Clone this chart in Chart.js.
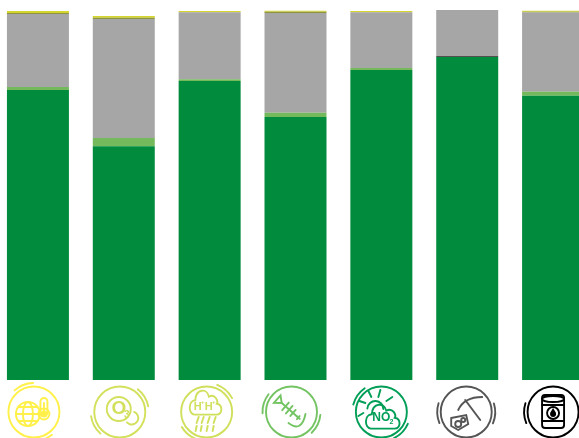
<!DOCTYPE html>
<html>
<head>
<meta charset="utf-8">
<script src="https://cdn.jsdelivr.net/npm/chart.js@4"></script>
<style>
html, body { margin: 0; padding: 0; background: #fff; width: 579px; height: 438px; overflow: hidden; }
#wrap { position: absolute; left: -5px; top: 0; width: 601px; height: 438px; }
</style>
</head>
<body>
<div id="wrap"><canvas id="impactChart" width="601" height="438"></canvas></div>
<script>
// Share of each impact category per life cycle stage
const categories = ['Global warming', 'Ozone depletion', 'Acidification', 'Eutrophication', 'Smog', 'Mineral resources', 'Fossil fuels'];
const stageGreen = [78.4, 63.2, 80.8, 71.1, 83.8, 87.3, 76.8];
const stageCharcoal = [0, 0, 0, 0, 0, 0.3, 0];
const stageLight = [0.8, 2.2, 0.5, 1.1, 0.5, 0, 1.1];
const stageGrey = [19.7, 32.2, 18.1, 27.0, 15.1, 12.4, 21.4];
const stageOlive = [0.3, 0.3, 0, 0.3, 0, 0, 0.2];
const stageYellow = [0.5, 0.5, 0.3, 0.3, 0.3, 0, 0.3];

// icon colour and centre shift from the bar middle
const iconColours = ['#fff04a', '#d3e05c', '#d0df5c', '#74c463', '#009e57', '#555555', '#000000'];
const iconShift = [-4, -4, -3, -4, 0, -1, 0];

function ring(c, x, y, r, a, b) {
    c.beginPath();
    c.arc(x, y, r, a, b);
    c.stroke();
}

// two outer arcs and the main circle used by every icon
function badge(c, x, y, a1, a2) {
    ring(c, x, y, 25.5, 0, Math.PI * 2);
    ring(c, x, y, 29, a1, a1 + 0.7);
    ring(c, x, y, 29, a2, a2 + 0.7);
}

function line(c, pts) {
    c.beginPath();
    c.moveTo(pts[0], pts[1]);
    for (var i = 2; i < pts.length; i += 2) c.lineTo(pts[i], pts[i + 1]);
    c.stroke();
}

function label(c, text, x, y, size) {
    c.font = 'bold ' + size + 'px "Liberation Sans", sans-serif';
    c.textAlign = 'center';
    c.textBaseline = 'middle';
    c.fillText(text, x, y);
}

function cloud(c, x, y, sx, sy) {
    c.beginPath();
    c.moveTo(x - 14 * sx, y + 8 * sy);
    c.bezierCurveTo(x - 22 * sx, y + 8 * sy, x - 22 * sx, y - 4 * sy, x - 13 * sx, y - 4 * sy);
    c.bezierCurveTo(x - 12 * sx, y - 14 * sy, x + 2 * sx, y - 14 * sy, x + 4 * sx, y - 7 * sy);
    c.bezierCurveTo(x + 12 * sx, y - 10 * sy, x + 16 * sx, y - 3 * sy, x + 14 * sx, y - 1 * sy);
    c.bezierCurveTo(x + 22 * sx, y, x + 21 * sx, y + 8 * sy, x + 14 * sx, y + 8 * sy);
    c.closePath();
    c.stroke();
}

const iconDrawers = [
    function (c, x, y) { // globe and thermometer
        badge(c, x, y, -2.3, 0.9);
        ring(c, x - 6, y + 2, 12, 0, Math.PI * 2);
        c.beginPath();
        c.ellipse(x - 6, y + 2, 5, 12, 0, 0, Math.PI * 2);
        c.stroke();
        line(c, [x - 18, y + 2, x + 6, y + 2]);
        line(c, [x - 15, y - 5, x + 3, y - 5]);
        line(c, [x - 15, y + 9, x + 3, y + 9]);
        c.fillStyle = '#fff';
        c.beginPath();
        c.roundRect(x + 6.5, y - 14, 7, 18, 3.5);
        c.fill();
        c.stroke();
        ring(c, x + 10, y + 2, 5.5, 0, Math.PI * 2);
        c.fillStyle = c.strokeStyle;
        c.beginPath();
        c.arc(x + 10, y + 2, 3.5, 0, Math.PI * 2);
        c.fill();
        line(c, [x + 10, y - 9, x + 10, y]);
    },
    function (c, x, y) { // ozone
        badge(c, x, y, -0.9, 2.3);
        ring(c, x - 1, y - 3, 12, 0, Math.PI * 2);
        ring(c, x + 12, y + 6, 6.5, -1.2, 2.4);
        c.fillStyle = c.strokeStyle;
        label(c, 'O', x - 1, y - 3, 19);
        label(c, '3', x + 7, y + 3, 10);
    },
    function (c, x, y) { // acid rain
        badge(c, x, y, -1.2, 1.9);
        cloud(c, x - 1, y - 7, 0.8, 1.2);
        c.fillStyle = c.strokeStyle;
        label(c, 'H', x - 9, y - 5, 11);
        label(c, 'H', x + 2, y - 5, 11);
        label(c, '+', x - 4, y - 10, 6);
        label(c, '+', x + 7, y - 10, 6);
        const drops = [-9, -4, 2, 8];
        for (var i = 0; i < drops.length; i++) {
            line(c, [x + drops[i] + 1, y + 5, x + drops[i] - 1, y + 11]);
            line(c, [x + drops[i] - 1, y + 14, x + drops[i] - 2, y + 19]);
        }
    },
    function (c, x, y) { // fish bones
        badge(c, x, y, 3.1, 0.1);
        c.save();
        c.translate(x - 3, y - 3);
        c.rotate(0.72);
        c.beginPath();
        c.moveTo(-15, -5);
        c.lineTo(-9, 0);
        c.lineTo(-15, 5);
        c.closePath();
        c.stroke();
        line(c, [-9, 0, 11, 0]);
        line(c, [-4, -5, -4, 5]);
        line(c, [1, -5, 1, 5]);
        line(c, [6, -4, 6, 4]);
        line(c, [13, -2, 13, 2]);
        line(c, [11, 0, 15, 0]);
        c.restore();
        c.beginPath();
        c.moveTo(x - 3, y + 11);
        c.quadraticCurveTo(x + 10, y + 21, x + 14, y + 2);
        c.stroke();
    },
    function (c, x, y) { // NO2 cloud and sun
        badge(c, x, y, 3.4, 0.42);
        ring(c, x - 6, y - 3, 8, 3.2, 0);
        line(c, [x - 16, y - 9, x - 22, y - 11]);
        line(c, [x - 10, y - 15, x - 13, y - 21]);
        line(c, [x - 3, y - 15, x - 1, y - 22]);
        line(c, [x + 5, y - 11, x + 11, y - 15]);
        line(c, [x - 18, y + 1, x - 23, y + 4]);
        cloud(c, x + 1.5, y + 7, 0.85, 1.2);
        c.fillStyle = c.strokeStyle;
        label(c, 'NO', x, y + 6, 12);
        label(c, '2', x + 10, y + 10, 7);
    },
    function (c, x, y) { // pickaxe and ore
        badge(c, x, y, 2.75, -0.3);
        line(c, [x - 1, y - 12, x + 14, y + 8]);
        c.beginPath();
        c.moveTo(x - 8, y - 2);
        c.quadraticCurveTo(x - 2, y - 15, x + 16, y - 15);
        c.stroke();
        c.beginPath();
        c.moveTo(x - 15, y + 6);
        c.lineTo(x, y + 3);
        c.lineTo(x + 2, y + 12);
        c.lineTo(x - 8, y + 18);
        c.lineTo(x - 15, y + 14);
        c.closePath();
        c.stroke();
        ring(c, x - 8, y + 12, 3, 0, Math.PI * 2);
        ring(c, x - 3, y + 8, 2, 0, Math.PI * 2);
    },
    function (c, x, y) { // oil barrel
        badge(c, x, y, 2.75, -0.3);
        c.beginPath();
        c.roundRect(x - 11, y - 17, 22, 33, 3);
        c.stroke();
        c.beginPath();
        c.ellipse(x, y - 13, 11, 3, 0, 0, Math.PI * 2);
        c.stroke();
        line(c, [x - 11, y - 7, x + 11, y - 7]);
        line(c, [x - 11, y + 9, x + 11, y + 9]);
        ring(c, x, y + 1, 6, 0, Math.PI * 2);
        c.fillStyle = c.strokeStyle;
        c.beginPath();
        c.arc(x, y + 2, 3, 0, Math.PI * 2);
        c.moveTo(x - 3, y + 1);
        c.lineTo(x, y - 4);
        c.lineTo(x + 3, y + 1);
        c.fill();
    }
];

// draws the icon row under the bars
const iconRow = {
    id: 'iconRow',
    afterDraw: function (chart) {
        const c = chart.ctx;
        const xScale = chart.scales.x;
        for (var i = 0; i < categories.length; i++) {
            c.save();
            c.strokeStyle = iconColours[i];
            c.lineWidth = 1.9;
            c.lineCap = 'round';
            iconDrawers[i](c, xScale.getPixelForValue(i) + iconShift[i], 412);
            c.restore();
        }
    }
};

const chartCtx = document.getElementById('impactChart').getContext('2d');
const impactChart = new Chart(chartCtx, {
    type: 'bar',
    data: {
        labels: categories,
        datasets: [
            { label: 'Stage 1', data: stageGreen, backgroundColor: '#008b3d' },
            { label: 'Stage 2', data: stageCharcoal, backgroundColor: '#505050' },
            { label: 'Stage 3', data: stageLight, backgroundColor: '#74b95c' },
            { label: 'Stage 4', data: stageGrey, backgroundColor: '#a6a6a6' },
            { label: 'Stage 5', data: stageOlive, backgroundColor: '#8f9440' },
            { label: 'Stage 6', data: stageYellow, backgroundColor: '#d4d62e' }
        ]
    },
    options: {
        responsive: false,
        animation: false,
        devicePixelRatio: 1,
        datasets: { bar: { categoryPercentage: 1, barPercentage: 0.722, borderWidth: 0 } },
        layout: { padding: { top: 10, bottom: 58, left: 0, right: 0 } },
        plugins: { legend: { display: false }, tooltip: { enabled: false } },
        scales: {
            x: { stacked: true, display: false },
            y: { stacked: true, display: false, min: 0, max: 100 }
        }
    },
    plugins: [iconRow]
});
</script>
</body>
</html>
